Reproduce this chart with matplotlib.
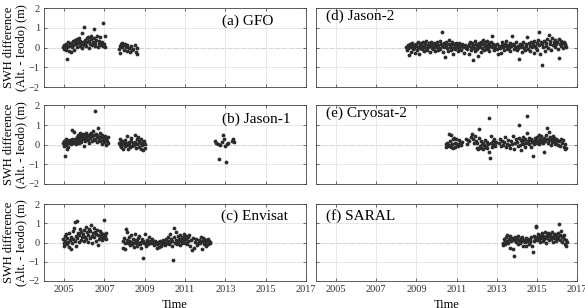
import matplotlib
matplotlib.use("Agg")
import matplotlib.pyplot as plt

plt.rcParams['font.family'] = ['Liberation Serif', 'DejaVu Serif']

# ---------------- data (decimal year, SWH difference in m) ----------------
gfo_points = [
    (2004.93, 0.05), (2004.97, -0.05), (2005.0, 0.15), (2005.03, 0.1), (2005.05, 0.0), (2005.08, 0.2),
    (2005.1, -0.1), (2005.13, -0.55), (2005.15, 0.05), (2005.2, 0.3), (2005.22, -0.15), (2005.25, 0.1),
    (2005.3, 0.2), (2005.33, -0.2), (2005.35, 0.25), (2005.4, 0.05), (2005.43, 0.35), (2005.45, 0.15),
    (2005.5, -0.1), (2005.52, 0.3), (2005.55, 0.4), (2005.6, 0.2), (2005.62, 0.45), (2005.65, 0.05),
    (2005.7, 0.3), (2005.72, 0.25), (2005.75, 0.5), (2005.78, 0.1), (2005.8, 0.35), (2005.85, 0.2),
    (2005.88, 0.75), (2005.9, 0.0), (2005.95, 0.3), (2005.97, 1.05), (2006.0, 0.15), (2006.03, 0.4),
    (2006.05, 0.25), (2006.1, 0.1), (2006.12, 0.5), (2006.15, 0.3), (2006.2, 0.55), (2006.22, 0.0),
    (2006.25, 0.35), (2006.3, 0.2), (2006.33, 0.45), (2006.35, 0.6), (2006.4, 0.15), (2006.43, 0.3),
    (2006.47, 0.5), (2006.5, 0.92), (2006.53, 0.25), (2006.55, 0.1), (2006.6, 0.4), (2006.65, 0.6),
    (2006.7, 0.05), (2006.72, 0.35), (2006.75, 0.2), (2006.8, 0.55), (2006.85, 0.15), (2006.88, 0.3),
    (2006.92, 1.22), (2006.95, 0.1), (2007.0, 0.2), (2007.05, 0.58), (2007.03, 0.05),
    (2007.72, -0.05), (2007.75, 0.1), (2007.78, -0.25), (2007.8, 0.2), (2007.85, 0.05), (2007.88, 0.25),
    (2007.92, 0.15), (2007.95, -0.1), (2008.0, 0.2), (2008.05, 0.05), (2008.1, 0.15), (2008.13, -0.15),
    (2008.2, 0.0), (2008.25, -0.2), (2008.3, 0.1), (2008.35, -0.1), (2008.4, -0.05), (2008.5, 0.15),
    (2008.55, -0.2), (2008.6, -0.3), (2008.62, 0.0),
]

jason1_points = [
    (2004.95, 0.1), (2004.98, -0.05), (2005.0, 0.2), (2005.02, -0.58), (2005.05, 0.05), (2005.08, 0.3),
    (2005.1, 0.0), (2005.12, -0.2), (2005.15, 0.15), (2005.18, 0.1), (2005.2, -0.1), (2005.23, 0.25),
    (2005.27, 0.1), (2005.3, 0.2), (2005.33, 0.05), (2005.36, 0.15), (2005.38, 0.75), (2005.4, 0.3),
    (2005.43, 0.1), (2005.46, 0.2), (2005.5, 0.65), (2005.52, 0.15), (2005.55, 0.3), (2005.58, 0.05),
    (2005.6, 0.25), (2005.63, 0.4), (2005.66, 0.2), (2005.7, 0.5), (2005.72, 0.1), (2005.75, 0.35),
    (2005.78, 0.6), (2005.8, 0.25), (2005.83, 0.45), (2005.86, 0.15), (2005.9, 0.4), (2005.92, 0.55),
    (2005.95, 0.3), (2005.98, -0.05), (2006.0, 0.45), (2006.03, 0.2), (2006.06, 0.6), (2006.1, 0.35),
    (2006.13, 0.5), (2006.16, 0.25), (2006.2, 0.45), (2006.23, 0.1), (2006.26, 0.55), (2006.3, 0.35),
    (2006.33, 0.6), (2006.36, 0.2), (2006.4, 0.45), (2006.43, 0.7), (2006.46, 0.3), (2006.5, 0.5),
    (2006.52, 1.74), (2006.55, 0.25), (2006.58, 0.55), (2006.62, 0.4), (2006.65, 0.15), (2006.68, 0.87),
    (2006.7, 0.45), (2006.73, 0.3), (2006.76, 0.6), (2006.8, 0.2), (2006.83, 0.4), (2006.86, 0.05),
    (2006.9, 0.5), (2006.93, 0.25), (2006.96, 0.35), (2007.0, 0.15), (2007.03, 0.45), (2007.06, 0.3),
    (2007.1, 0.0), (2007.13, 0.2), (2007.17, 0.4), (2007.2, 0.1),
    (2007.72, 0.1), (2007.75, 0.3), (2007.78, 0.0), (2007.8, 0.15), (2007.83, -0.1), (2007.86, 0.2),
    (2007.9, 0.05), (2007.93, -0.2), (2007.96, 0.1), (2008.0, 0.25), (2008.03, -0.05), (2008.06, 0.1),
    (2008.1, 0.45), (2008.13, 0.0), (2008.16, -0.25), (2008.2, 0.15), (2008.23, 0.05), (2008.26, -0.1),
    (2008.3, 0.2), (2008.33, 0.35), (2008.36, -0.05), (2008.4, 0.1), (2008.45, 0.0), (2008.5, 0.5),
    (2008.53, 0.15), (2008.56, -0.15), (2008.6, 0.3), (2008.63, 0.05), (2008.66, 0.4), (2008.7, -0.1),
    (2008.73, 0.2), (2008.76, 0.1), (2008.8, -0.2), (2008.83, 0.3), (2008.86, 0.0), (2008.9, 0.15),
    (2008.93, -0.3), (2008.96, 0.2), (2009.0, 0.05), (2009.03, -0.15),
    (2012.48, 0.2), (2012.55, 0.1), (2012.62, 0.05), (2012.7, -0.75), (2012.75, 0.0), (2012.82, 0.15),
    (2012.9, 0.5), (2012.95, 0.3), (2013.0, -0.05), (2013.05, -0.9), (2013.1, 0.05), (2013.15, 0.1),
    (2013.35, 0.2), (2013.4, 0.3), (2013.45, 0.15),
]

envisat_points = [
    (2004.95, 0.2), (2004.98, 0.0), (2005.0, -0.2), (2005.03, 0.35), (2005.06, 0.1), (2005.1, 0.45),
    (2005.13, -0.1), (2005.16, 0.25), (2005.2, 0.05), (2005.23, 0.5), (2005.26, -0.25), (2005.3, 0.15),
    (2005.33, -0.35), (2005.36, 0.3), (2005.4, 0.0), (2005.43, 0.6), (2005.46, 0.2), (2005.5, 0.75),
    (2005.52, 0.1), (2005.55, 1.05), (2005.58, 0.35), (2005.6, -0.2), (2005.63, 1.12), (2005.66, 0.25),
    (2005.7, 0.5), (2005.73, 0.05), (2005.76, 0.4), (2005.8, 0.7), (2005.83, 0.15), (2005.86, 0.55),
    (2005.9, 0.3), (2005.93, 0.45), (2005.96, 0.1), (2006.0, 0.65), (2006.03, 0.3), (2006.06, 0.8),
    (2006.1, 0.2), (2006.13, 0.55), (2006.16, 0.05), (2006.2, 0.4), (2006.23, 0.7), (2006.26, 0.25),
    (2006.3, 0.6), (2006.33, 0.9), (2006.36, 0.35), (2006.4, 0.0), (2006.43, 0.5), (2006.46, 0.75),
    (2006.5, 0.3), (2006.53, 0.55), (2006.56, 0.1), (2006.6, 0.45), (2006.63, 0.65), (2006.66, -0.15),
    (2006.7, 0.4), (2006.73, 0.2), (2006.76, 0.6), (2006.8, 0.35), (2006.83, 0.5), (2006.86, 0.15),
    (2006.9, 0.3), (2006.93, 0.45), (2006.96, 0.25), (2007.0, 1.15), (2007.03, 0.35), (2007.06, 0.5),
    (2007.1, 0.2),
    (2007.9, 0.1), (2007.93, -0.3), (2007.96, 0.25), (2008.0, 0.0), (2008.03, -0.35), (2008.06, 0.7),
    (2008.1, 0.15), (2008.13, 0.55), (2008.16, -0.05), (2008.2, 0.3), (2008.23, 0.1), (2008.26, -0.15),
    (2008.3, 0.4), (2008.33, 0.05), (2008.36, -0.1), (2008.4, 0.2), (2008.43, 0.0), (2008.46, -0.25),
    (2008.5, 0.15), (2008.53, 0.45), (2008.56, -0.05), (2008.6, 0.1), (2008.63, -0.2), (2008.66, 0.25),
    (2008.7, 0.0), (2008.73, 0.35), (2008.76, -0.1), (2008.8, 0.05), (2008.83, -0.3), (2008.86, 0.2),
    (2008.9, -0.78), (2008.93, 0.1), (2008.96, -0.05), (2009.0, 0.45), (2009.03, 0.0), (2009.06, -0.2),
    (2009.1, 0.15), (2009.13, 0.05), (2009.16, -0.1), (2009.2, 0.3), (2009.23, 0.0), (2009.26, 0.1),
    (2009.3, -0.05), (2009.35, 0.2), (2009.4, 0.05), (2009.45, -0.15), (2009.5, 0.1), (2009.55, 0.0),
    (2009.6, -0.3), (2009.63, -0.1), (2009.66, 0.05), (2009.7, -0.25), (2009.73, -0.05), (2009.76, 0.1),
    (2009.8, -0.2), (2009.85, 0.0), (2009.9, 0.15), (2009.93, -0.1), (2009.96, 0.05), (2010.0, -0.15),
    (2010.03, 0.2), (2010.06, 0.0), (2010.1, -0.05), (2010.13, 0.3), (2010.16, 0.1), (2010.2, -0.1),
    (2010.23, 0.45), (2010.26, 0.05), (2010.3, 0.2), (2010.33, -0.2), (2010.36, 0.1), (2010.4, -0.9),
    (2010.43, 0.75), (2010.46, 0.3), (2010.5, 0.0), (2010.53, 0.55), (2010.56, 0.15), (2010.6, -0.1),
    (2010.63, 0.35), (2010.66, 0.05), (2010.7, 0.2), (2010.73, -0.15), (2010.76, 0.4), (2010.8, 0.1),
    (2010.83, 0.25), (2010.86, -0.05), (2010.9, 0.3), (2010.93, 0.15), (2010.96, 0.45), (2011.0, 0.0),
    (2011.03, 0.35), (2011.06, 0.2), (2011.1, -0.1), (2011.13, 0.3), (2011.16, 0.1), (2011.2, 0.4),
    (2011.25, -0.2), (2011.3, 0.15), (2011.35, -0.4), (2011.4, 0.25), (2011.45, -0.3), (2011.5, 0.05),
    (2011.55, 0.2), (2011.6, -0.15), (2011.65, 0.0), (2011.7, 0.15), (2011.75, -0.05), (2011.8, 0.3),
    (2011.83, -0.35), (2011.86, 0.1), (2011.9, 0.25), (2011.93, -0.1), (2011.96, 0.2), (2012.0, 0.05),
    (2012.03, -0.2), (2012.06, 0.15), (2012.1, 0.0), (2012.13, 0.2), (2012.16, -0.1), (2012.2, 0.1),
    (2012.23, -0.05), (2012.26, 0.05),
]

jason2_points = [
    (2008.5, 0.05), (2008.53, -0.1), (2008.56, 0.15), (2008.6, 0.0), (2008.63, -0.35), (2008.66, 0.2),
    (2008.7, 0.05), (2008.73, -0.2), (2008.76, 0.1), (2008.8, 0.25), (2008.83, -0.05), (2008.86, 0.15),
    (2008.9, 0.0), (2008.93, -0.25), (2008.96, 0.2),
    (2009.0, 0.1), (2009.03, -0.1), (2009.06, 0.3), (2009.1, 0.05), (2009.13, -0.3), (2009.16, 0.15),
    (2009.2, 0.0), (2009.23, 0.25), (2009.26, -0.05), (2009.3, 0.1), (2009.33, 0.3), (2009.36, -0.15),
    (2009.4, 0.05), (2009.43, 0.2), (2009.46, 0.0), (2009.5, 0.35), (2009.53, -0.1), (2009.56, 0.15),
    (2009.6, 0.05), (2009.63, 0.25), (2009.66, -0.2), (2009.7, 0.1), (2009.73, 0.3), (2009.76, 0.0),
    (2009.8, 0.15), (2009.83, -0.05), (2009.86, 0.25), (2009.9, 0.1), (2009.93, -0.15), (2009.96, 0.2),
    (2010.0, 0.05), (2010.03, 0.3), (2010.06, -0.1), (2010.1, 0.15), (2010.13, 0.0), (2010.16, 0.35),
    (2010.2, -0.05), (2010.23, 0.2), (2010.27, 0.8), (2010.3, 0.1), (2010.33, -0.2), (2010.36, 0.25),
    (2010.4, 0.05), (2010.43, -0.45), (2010.46, 0.15), (2010.5, 0.3), (2010.53, 0.0), (2010.56, -0.15),
    (2010.6, 0.2), (2010.63, 0.4), (2010.66, 0.05), (2010.7, -0.1), (2010.73, 0.15), (2010.76, 0.3),
    (2010.8, 0.0), (2010.83, -0.3), (2010.86, 0.2), (2010.9, 0.1), (2010.93, -0.05), (2010.96, 0.25),
    (2011.0, 0.05), (2011.03, 0.15), (2011.06, -0.15), (2011.1, 0.25), (2011.13, 0.0), (2011.16, 0.1),
    (2011.2, -0.1), (2011.25, 0.2), (2011.3, 0.05), (2011.35, -0.25), (2011.4, 0.15), (2011.45, 0.0),
    (2011.5, -0.05), (2011.55, 0.1), (2011.6, -0.3), (2011.63, 0.2), (2011.66, 0.3), (2011.7, -0.1),
    (2011.73, 0.05), (2011.76, 0.25), (2011.8, -0.6), (2011.83, 0.15), (2011.86, 0.0), (2011.9, 0.35),
    (2011.93, -0.15), (2011.96, 0.2),
    (2012.0, 0.1), (2012.03, -0.05), (2012.06, -0.4), (2012.1, 0.25), (2012.13, 0.05), (2012.16, 0.15),
    (2012.2, -0.2), (2012.23, 0.3), (2012.26, 0.0), (2012.3, 0.2), (2012.33, 0.4), (2012.36, -0.1),
    (2012.4, 0.1), (2012.43, 0.3), (2012.46, -0.05), (2012.5, 0.15), (2012.53, 0.35), (2012.56, 0.0),
    (2012.6, 0.25), (2012.63, -0.15), (2012.66, 0.1), (2012.7, 0.3), (2012.75, 0.6), (2012.78, 0.05),
    (2012.82, 0.2), (2012.86, -0.1), (2012.9, 0.15), (2012.94, 0.0),
    (2013.0, -0.05), (2013.04, 0.2), (2013.08, -0.3), (2013.12, 0.1), (2013.16, 0.0), (2013.2, -0.25),
    (2013.24, 0.15), (2013.28, 0.3), (2013.32, 0.05), (2013.36, -0.1), (2013.4, 0.2), (2013.44, 0.35),
    (2013.48, 0.1), (2013.52, -0.05), (2013.56, 0.15), (2013.6, 0.0), (2013.64, 0.25), (2013.68, -0.15),
    (2013.72, 0.1), (2013.77, 0.6), (2013.8, 0.2), (2013.84, -0.05), (2013.88, 0.15), (2013.92, 0.05),
    (2013.96, 0.3),
    (2014.0, -0.1), (2014.04, 0.1), (2014.08, 0.0), (2014.13, -0.55), (2014.16, 0.2), (2014.2, 0.05),
    (2014.24, -0.2), (2014.28, 0.15), (2014.32, 0.3), (2014.36, 0.0), (2014.4, -0.1), (2014.44, 0.2),
    (2014.48, 0.1), (2014.53, 0.55), (2014.56, -0.05), (2014.6, 0.25), (2014.64, 0.1), (2014.68, -0.15),
    (2014.72, 0.3), (2014.76, 0.05), (2014.8, 0.2), (2014.84, -0.25), (2014.88, 0.35), (2014.92, 0.1),
    (2014.96, 0.0),
    (2015.0, 0.25), (2015.03, -0.1), (2015.06, 0.4), (2015.1, 0.77), (2015.13, 0.15), (2015.16, -0.3),
    (2015.2, 0.3), (2015.25, -0.9), (2015.28, 0.2), (2015.32, 0.05), (2015.36, 0.35), (2015.4, -0.15),
    (2015.44, 0.25), (2015.48, 0.1), (2015.52, 0.45), (2015.56, 0.0), (2015.6, 0.65), (2015.64, 0.2),
    (2015.68, 0.35), (2015.72, -0.1), (2015.76, 0.5), (2015.8, 0.15), (2015.84, 0.3), (2015.88, 0.05),
    (2015.92, 0.4), (2015.96, 0.2),
    (2016.0, 0.3), (2016.04, -0.05), (2016.08, 0.45), (2016.1, -0.5), (2016.14, 0.2), (2016.18, 0.35),
    (2016.22, 0.1), (2016.26, 0.25), (2016.3, 0.0), (2016.34, 0.3), (2016.38, 0.15), (2016.42, 0.2),
    (2016.45, 0.05),
]

cryosat2_points = [
    (2010.47, 0.05), (2010.5, -0.1), (2010.53, 0.1), (2010.56, -0.05), (2010.6, 0.55), (2010.63, 0.0),
    (2010.66, 0.2), (2010.7, -0.1), (2010.72, 0.5), (2010.76, 0.05), (2010.8, 0.3), (2010.83, -0.15),
    (2010.86, 0.35), (2010.9, 0.1), (2010.93, -0.1), (2010.96, 0.3), (2011.0, 0.05), (2011.05, -0.05),
    (2011.1, 0.25), (2011.15, 0.1), (2011.2, 0.0), (2011.25, 0.15),
    (2011.45, 0.3), (2011.5, 0.05), (2011.55, 0.25), (2011.62, 0.2), (2011.7, 0.4), (2011.75, 0.55),
    (2011.8, 0.3), (2011.85, 0.1), (2011.9, 0.45), (2011.95, 0.2), (2012.0, -0.15), (2012.03, 0.1),
    (2012.06, -0.2), (2012.1, 0.35), (2012.13, 0.79), (2012.16, -0.05), (2012.2, 0.2), (2012.23, -0.15),
    (2012.26, 0.05), (2012.3, -0.2), (2012.33, 0.1), (2012.36, 0.0), (2012.4, -0.1), (2012.43, 0.25),
    (2012.46, -0.05), (2012.5, 0.15), (2012.53, -0.15), (2012.56, 0.05), (2012.6, 1.36), (2012.63, -0.4),
    (2012.66, -0.68), (2012.7, 0.1), (2012.73, 0.45), (2012.76, -0.1), (2012.8, 0.2), (2012.83, 0.0),
    (2012.86, 0.3), (2012.9, 0.1), (2012.93, -0.05), (2012.96, 0.15),
    (2013.1, 0.1), (2013.15, 0.3), (2013.2, -0.05), (2013.25, 0.2), (2013.3, 0.0), (2013.35, 0.15),
    (2013.4, 0.4), (2013.45, -0.1), (2013.5, 0.05), (2013.55, 0.25), (2013.6, 0.0), (2013.65, -0.15),
    (2013.7, 0.2), (2013.75, 0.05), (2013.8, 0.45), (2013.85, -0.2), (2013.9, 0.1), (2013.95, 0.3),
    (2014.0, 0.15), (2014.05, -0.05), (2014.1, 0.35), (2014.13, 0.98), (2014.16, 0.0), (2014.2, 0.25),
    (2014.23, -0.3), (2014.26, 0.15), (2014.3, 0.4), (2014.33, 0.05), (2014.36, 0.25), (2014.4, -0.1),
    (2014.43, 0.3), (2014.46, 0.1), (2014.5, 1.44), (2014.53, 0.6), (2014.56, 0.2), (2014.6, 0.35),
    (2014.63, 0.05), (2014.66, 0.25), (2014.7, -0.1), (2014.73, 0.3), (2014.76, 0.15), (2014.8, -0.58),
    (2014.83, 0.2), (2014.86, 0.05), (2014.9, 0.35), (2014.93, 0.15), (2014.96, 0.25),
    (2015.0, 0.1), (2015.03, 0.4), (2015.06, 0.2), (2015.1, 0.5), (2015.13, 0.05), (2015.16, 0.3),
    (2015.2, 0.15), (2015.23, 0.45), (2015.26, 0.25), (2015.3, 0.1), (2015.35, -0.4), (2015.38, 0.35),
    (2015.42, 0.2), (2015.46, 0.5), (2015.5, 0.84), (2015.53, 0.3), (2015.56, 0.1), (2015.6, 0.65),
    (2015.63, 0.25), (2015.66, 0.4), (2015.7, 0.0), (2015.73, 0.3), (2015.76, 0.15), (2015.8, 0.45),
    (2015.83, 0.2), (2015.86, 0.35), (2015.9, 0.05), (2015.93, 0.3), (2015.96, 0.15), (2016.0, 0.25),
    (2016.05, 0.0), (2016.1, 0.2), (2016.15, -0.05), (2016.2, 0.3), (2016.25, 0.1), (2016.3, 0.25),
    (2016.35, -0.1), (2016.4, -0.2), (2016.42, 0.05), (2016.45, -0.15),
]

saral_points = [
    (2013.3, 0.0), (2013.33, -0.15), (2013.36, 0.2), (2013.4, 0.05), (2013.43, -0.1), (2013.46, 0.3),
    (2013.5, 0.1), (2013.53, 0.4), (2013.56, -0.05), (2013.6, 0.2), (2013.65, -0.27), (2013.68, 0.35),
    (2013.72, 0.1), (2013.76, 0.25), (2013.8, -0.35), (2013.85, -0.68), (2013.88, 0.15), (2013.92, 0.3),
    (2013.96, 0.05), (2014.0, 0.2), (2014.04, -0.1), (2014.08, 0.35), (2014.12, 0.15), (2014.16, 0.0),
    (2014.2, 0.25), (2014.24, 0.1), (2014.28, 0.3), (2014.32, -0.2), (2014.36, 0.15), (2014.4, 0.05),
    (2014.44, 0.25), (2014.48, -0.2), (2014.52, 0.1), (2014.56, 0.2), (2014.6, -0.1), (2014.64, 0.15),
    (2014.68, 0.05), (2014.72, 0.3), (2014.76, -0.2), (2014.8, -0.48), (2014.84, 0.1), (2014.88, 0.35),
    (2014.92, 0.2), (2014.95, 0.78), (2014.97, 0.87), (2015.0, 0.3), (2015.03, 0.15), (2015.06, 0.45),
    (2015.1, 0.2), (2015.13, 0.35), (2015.16, 0.05), (2015.2, 0.4), (2015.23, 0.25), (2015.26, 0.5),
    (2015.3, 0.1), (2015.33, 0.35), (2015.36, 0.2), (2015.4, 0.55), (2015.43, 0.3), (2015.46, -0.05),
    (2015.5, 0.4), (2015.53, 0.25), (2015.56, 0.5), (2015.6, 0.15), (2015.63, 0.35), (2015.66, 0.45),
    (2015.7, 0.2), (2015.73, 0.55), (2015.76, 0.3), (2015.8, 0.05), (2015.83, 0.4), (2015.86, 0.25),
    (2015.9, 0.45), (2015.93, 0.1), (2015.96, 0.35), (2016.0, 0.2), (2016.03, 0.5), (2016.06, 0.3),
    (2016.1, 0.96), (2016.13, 0.4), (2016.16, 0.15), (2016.2, 0.6), (2016.23, 0.3), (2016.26, 0.05),
    (2016.3, 0.35), (2016.33, 0.2), (2016.36, 0.4), (2016.4, -0.1), (2016.43, 0.15), (2016.46, -0.2),
    (2016.5, 0.05),
]

panel_titles = ["(a) GFO", "(b) Jason-1", "(c) Envisat", "(d) Jason-2", "(e) Cryosat-2", "(f) SARAL"]
x_ticks = [2005, 2007, 2009, 2011, 2013, 2015, 2017]
y_ticks = [-2, -1, 0, 1, 2]
y_label = "SWH difference\n(Alt. - Ieodo) (m)"
x_label = "Time"

# ---------------- figure ----------------
W, H = 585, 308
fig = plt.figure(figsize=(W / 100, H / 100), dpi=100)

col_x = [44, 316]
col_w = [262, 261]
row_top = [8, 105.5, 204]
row_h = [79.3, 78.2, 77.0]
# position (axes fraction) of the panel labels
title_pos = [(0.68, 0.83), (0.68, 0.83), (0.675, 0.835),
             (0.038, 0.895), (0.038, 0.9), (0.038, 0.845)]

series = [gfo_points, jason1_points, envisat_points, jason2_points, cryosat2_points, saral_points]

for idx, pts in enumerate(series):
    col = idx // 3
    row = idx % 3
    left = col_x[col] / W
    bottom = 1 - (row_top[row] + row_h[row]) / H
    ax = fig.add_axes([left, bottom, col_w[col] / W, row_h[row] / H])
    t = [p[0] for p in pts]
    v = [p[1] for p in pts]
    ax.set_xlim(2004, 2017)
    ax.set_ylim(-2, 2)
    ax.set_xticks(x_ticks)
    ax.set_yticks(y_ticks)
    ax.grid(True, color='#e3e3e3', linewidth=0.6, zorder=0)
    ax.axhline(0, color='#8a8a8a', linestyle=(0, (4, 3)), linewidth=0.7, zorder=1)
    ax.scatter(t, v, s=7.5, color='#2b2b2b', linewidths=0, zorder=3)
    ax.tick_params(direction='in', length=2.5, width=0.5, top=True, right=True,
                   labelsize=7.5, colors='#333333', pad=3)
    for sp in ax.spines.values():
        sp.set_linewidth(0.6)
        sp.set_color('#444444')
    tx, ty = title_pos[idx]
    ax.text(tx, ty, panel_titles[idx], transform=ax.transAxes, fontsize=11,
            ha='left', va='center')
    if col == 0:
        ax.set_ylabel(y_label, fontsize=9, linespacing=1.05)
        ax.yaxis.set_label_coords(-0.062, 0.5)
    else:
        ax.set_yticklabels([])
    if row < 2:
        ax.set_xticklabels([])
    else:
        ax.set_xlabel(x_label, fontsize=9, labelpad=3.5)

fig.savefig("out.png", dpi=100)
